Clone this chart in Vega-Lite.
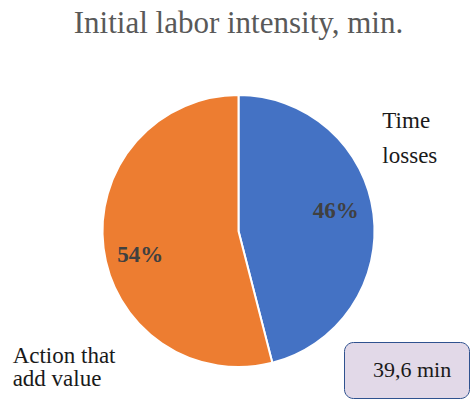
{
  "$schema": "https://vega.github.io/schema/vega-lite/v6.json",
  "width": 470,
  "height": 401,
  "autosize": {"type": "fit", "contains": "padding"},
  "padding": {"left": 8, "right": 1, "top": 8, "bottom": 3},
  "background": "white",
  "title": {
    "text": "Initial labor intensity, min.",
    "font": "Liberation Serif",
    "fontSize": 31,
    "fontWeight": "normal",
    "color": "#595959",
    "offset": 24
  },
  "config": {"view": {"stroke": null}},
  "datasets": {
    "slices": [
      {"category": "Time losses", "share": 46, "order": 1, "pct": "46%", "lines": ["Time", "losses"]},
      {"category": "Action that add value", "share": 54, "order": 2, "pct": "54%", "lines": ["Action that", "add value"]}
    ],
    "total": [{"label": "39,6 min"}]
  },
  "layer": [
    {
      "data": {"name": "slices"},
      "mark": {"type": "arc", "outerRadius": 136, "stroke": "white", "strokeWidth": 2},
      "encoding": {
        "theta": {"field": "share", "type": "quantitative", "stack": true},
        "order": {"field": "order", "type": "quantitative"},
        "color": {
          "field": "category",
          "type": "nominal",
          "scale": {"domain": ["Time losses", "Action that add value"], "range": ["#4472C4", "#ED7D31"]},
          "legend": null
        }
      }
    },
    {
      "data": {"name": "slices"},
      "mark": {"type": "text", "radius": 100, "dx": -2, "dy": -7, "font": "Liberation Serif", "fontSize": 23, "fontWeight": "bold", "fill": "#404040"},
      "encoding": {
        "theta": {"field": "share", "type": "quantitative", "stack": true},
        "order": {"field": "order", "type": "quantitative"},
        "text": {"field": "pct", "type": "nominal"},
        "opacity": {"condition": {"test": "datum.category === 'Time losses'", "value": 1}, "value": 0}
      }
    },
    {
      "data": {"name": "slices"},
      "mark": {"type": "text", "radius": 100, "dx": 1, "dy": 11, "font": "Liberation Serif", "fontSize": 23, "fontWeight": "bold", "fill": "#404040"},
      "encoding": {
        "theta": {"field": "share", "type": "quantitative", "stack": true},
        "order": {"field": "order", "type": "quantitative"},
        "text": {"field": "pct", "type": "nominal"},
        "opacity": {"condition": {"test": "datum.category === 'Action that add value'", "value": 1}, "value": 0}
      }
    },
    {
      "data": {"name": "slices"},
      "mark": {"type": "text", "radius": 145, "align": "left", "baseline": "alphabetic", "dx": 0, "dy": -85, "lineHeight": 35, "font": "Liberation Serif", "fontSize": 23, "fill": "#1a1a1a"},
      "encoding": {
        "theta": {"field": "share", "type": "quantitative", "stack": true},
        "order": {"field": "order", "type": "quantitative"},
        "text": {"field": "lines", "type": "nominal"},
        "opacity": {"condition": {"test": "datum.category === 'Time losses'", "value": 1}, "value": 0}
      }
    },
    {
      "data": {"name": "slices"},
      "mark": {"type": "text", "radius": 145, "align": "left", "baseline": "alphabetic", "dx": -82, "dy": 114, "lineHeight": 23, "font": "Liberation Serif", "fontSize": 23, "fill": "#1a1a1a"},
      "encoding": {
        "theta": {"field": "share", "type": "quantitative", "stack": true},
        "order": {"field": "order", "type": "quantitative"},
        "text": {"field": "lines", "type": "nominal"},
        "opacity": {"condition": {"test": "datum.category === 'Action that add value'", "value": 1}, "value": 0}
      }
    },
    {
      "data": {"name": "total"},
      "mark": {"type": "point", "opacity": 0},
      "encoding": {
        "shape": {
          "field": "label",
          "type": "nominal",
          "legend": {
            "title": null,
            "orient": "bottom-right",
            "offset": 0,
            "padding": 17,
            "fillColor": "#E2D9E8",
            "strokeColor": "#2F528F",
            "cornerRadius": 9,
            "symbolSize": 0,
            "symbolOpacity": 0,
            "labelOffset": -10,
            "labelFont": "Liberation Serif",
            "labelFontSize": 22,
            "labelColor": "#1a1a1a",
            "labelExpr": "datum.value + '\u2002'",
            "encode": {"legend": {"update": {"strokeWidth": {"value": 1.5}}}}
          }
        }
      }
    }
  ]
}
